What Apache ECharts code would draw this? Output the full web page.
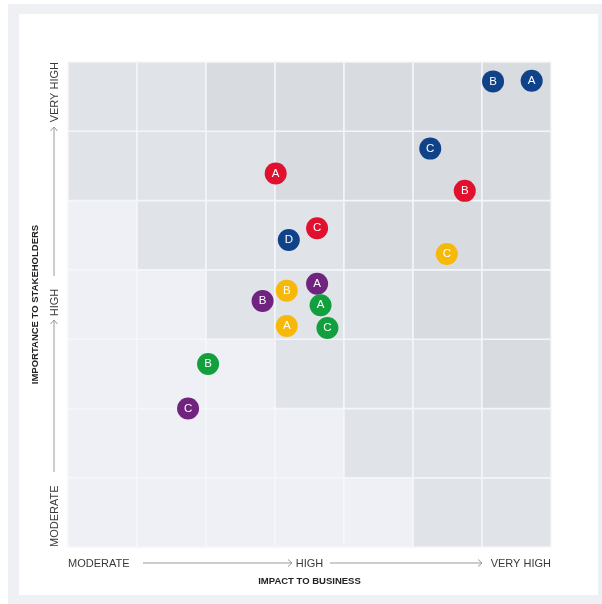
<!DOCTYPE html>
<html><head><meta charset="utf-8">
<script src="https://cdn.jsdelivr.net/npm/echarts@6/dist/echarts.min.js"></script>
<style>html,body{margin:0;padding:0;background:#fff}#c{width:602px;height:604px}</style>
</head><body><div id="c"></div>
<script>
// ---- data ----
const xTickLabels = ['MODERATE', 'HIGH', 'VERY HIGH'];
const yTickLabels = ['MODERATE', 'HIGH', 'VERY HIGH'];
const xAxisTitle = 'IMPACT TO BUSINESS';
const yAxisTitle = 'IMPORTANCE TO STAKEHOLDERS';
// shading level of each cell, rows from bottom (y=0) to top (y=6), columns left to right
const cellLevels = [
  [0,0,0,0,0,1,1],
  [0,0,0,0,1,1,1],
  [0,0,0,1,1,1,2],
  [0,0,1,1,1,2,2],
  [0,1,1,1,2,2,2],
  [1,1,1,2,2,2,2],
  [1,1,2,2,2,2,2]
];
const blueLabels   = ['A', 'B', 'C', 'D'];
const blueX        = [6.72, 6.16, 5.25, 3.20];
const blueY        = [6.73, 6.72, 5.75, 4.43];
const redLabels    = ['A', 'B', 'C'];
const redX         = [3.01, 5.75, 3.61];
const redY         = [5.39, 5.14, 4.60];
const yellowLabels = ['A', 'B', 'C'];
const yellowX      = [3.17, 3.17, 5.49];
const yellowY      = [3.19, 3.70, 4.23];
const purpleLabels = ['A', 'B', 'C'];
const purpleX      = [3.61, 2.82, 1.74];
const purpleY      = [3.80, 3.55, 2.00];
const greenLabels  = ['A', 'B', 'C'];
const greenX       = [3.66, 2.03, 3.76];
const greenY       = [3.49, 2.64, 3.16];

// ---- styles ----
const FONT = '"Liberation Sans", Arial, sans-serif';
const levelColors = ['#eff0f5', '#e0e3e8', '#d8dbe0'];
const cellData = [];
cellLevels.forEach((row, r) => row.forEach((lv, c) => cellData.push([c, r, lv])));

function pts(xs, ys, ls) { return xs.map((x, i) => ({ value: [x, ys[i]], name: ls[i] })); }
function dotSeries(name, color, data) {
  return {
    type: 'scatter', name, data, symbol: 'circle', symbolSize: 22, z: 5,
    itemStyle: { color, opacity: 1 },
    label: { show: true, position: 'inside', formatter: '{b}', color: '#fff', fontSize: 11.5, fontFamily: FONT },
    emphasis: { disabled: true }
  };
}

const chart = echarts.init(document.getElementById('c'), null, { renderer: 'canvas' });
const GL = 68, GT = 62, GR = 551, GB = 547;
const axisLabelY = 55;
const arrowColor = '#9a9a9a';
function line(pts) { return { type: 'polyline', silent: true, shape: { points: pts }, style: { stroke: arrowColor, lineWidth: 1, fill: null } }; }
chart.setOption({
  backgroundColor: '#fff',
  animation: false,
  grid: { left: GL, top: GT, right: 602 - GR, bottom: 604 - GB, containLabel: false },
  xAxis: {
    type: 'value', min: 0, max: 7, interval: 3.5,
    axisLine: { show: false }, axisTick: { show: false }, splitLine: { show: false },
    axisLabel: {
      fontSize: 11, color: '#3a3a3a', fontFamily: FONT, margin: 11,
      alignMinLabel: 'left', alignMaxLabel: 'right',
      formatter: v => xTickLabels[Math.round(v / 3.5)]
    },
    name: xAxisTitle, nameLocation: 'middle', nameGap: 29,
    nameTextStyle: { fontSize: 9.5, fontWeight: 'bold', color: '#222', fontFamily: FONT }
  },
  yAxis: {
    type: 'value', min: 0, max: 7, interval: 1,
    axisLine: { show: false }, axisTick: { show: false }, splitLine: { show: false },
    axisLabel: { show: false },
    name: yAxisTitle, nameLocation: 'middle', nameGap: 28, nameRotate: 90,
    nameTextStyle: { fontSize: 9.5, fontWeight: 'bold', color: '#222', fontFamily: FONT }
  },
  graphic: [
    { type: 'rect', z: -100, silent: true, shape: { x: 8, y: 4, width: 594, height: 600 }, style: { fill: '#eef0f4' } },
    { type: 'rect', z: -99, silent: true, shape: { x: 19, y: 14, width: 579, height: 581 }, style: { fill: '#ffffff' } },
    // x arrows
    line([[143, 563], [292, 563]]),
    line([[288, 559.5], [292, 563], [288, 566.5]]),
    line([[330, 563], [482, 563]]),
    line([[478, 559.5], [482, 563], [478, 566.5]]),
    // y arrows
    line([[54, 472], [54, 320]]),
    line([[50.5, 324], [54, 320], [57.5, 324]]),
    line([[54, 276], [54, 127]]),
    line([[50.5, 131], [54, 127], [57.5, 131]]),
    // y tick labels (rotated)
    { type: 'text', silent: true, x: axisLabelY, y: GB, rotation: Math.PI / 2,
      style: { text: yTickLabels[0], fontSize: 11, fill: '#3a3a3a', fontFamily: FONT, align: 'left', verticalAlign: 'middle' } },
    { type: 'text', silent: true, x: axisLabelY, y: (GT + GB) / 2 - 2, rotation: Math.PI / 2,
      style: { text: yTickLabels[1], fontSize: 11, fill: '#3a3a3a', fontFamily: FONT, align: 'center', verticalAlign: 'middle' } },
    { type: 'text', silent: true, x: axisLabelY, y: GT, rotation: Math.PI / 2,
      style: { text: yTickLabels[2], fontSize: 11, fill: '#3a3a3a', fontFamily: FONT, align: 'right', verticalAlign: 'middle' } }
  ],
  series: [
    {
      type: 'custom', z: 1, silent: true, data: cellData,
      renderItem: (params, api) => {
        const c = api.value(0), r = api.value(1), lv = api.value(2);
        const p0 = api.coord([c, r + 1]);
        const p1 = api.coord([c + 1, r]);
        return {
          type: 'rect',
          shape: { x: p0[0], y: p0[1], width: p1[0] - p0[0], height: p1[1] - p0[1] },
          style: { fill: levelColors[lv], stroke: '#f5f6f9', lineWidth: 1.5 }
        };
      }
    },
    dotSeries('blue', '#10428a', pts(blueX, blueY, blueLabels)),
    dotSeries('red', '#e0102e', pts(redX, redY, redLabels)),
    dotSeries('yellow', '#f6b90a', pts(yellowX, yellowY, yellowLabels)),
    dotSeries('purple', '#70237f', pts(purpleX, purpleY, purpleLabels)),
    dotSeries('green', '#12a03e', pts(greenX, greenY, greenLabels))
  ]
});
</script></body></html>
